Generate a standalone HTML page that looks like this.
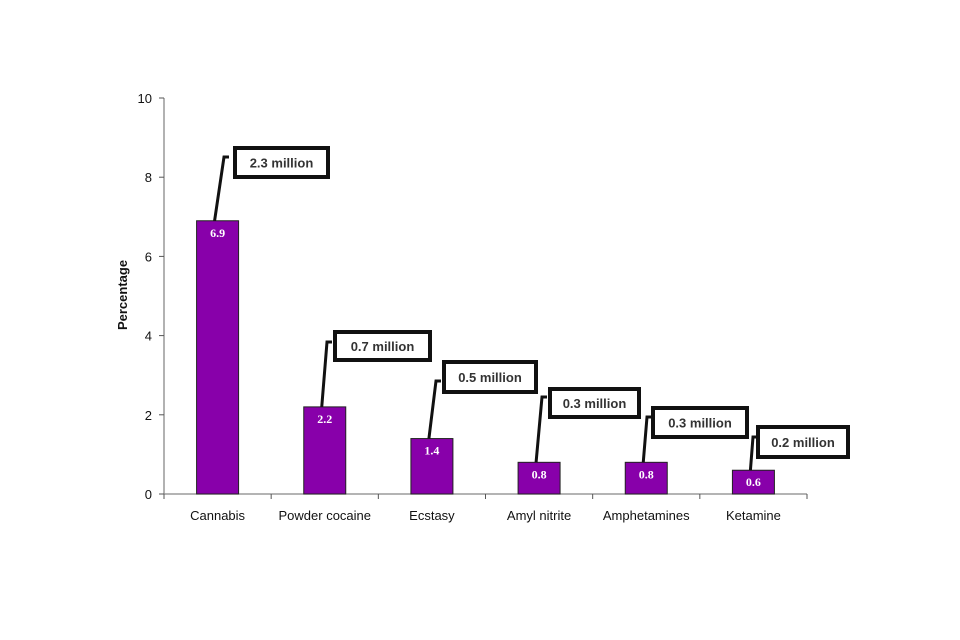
<!DOCTYPE html>
<html><head><meta charset="utf-8"><style>
html,body{margin:0;padding:0;background:#fff;}
svg{display:block;font-family:"Liberation Sans",sans-serif;}
</style></head><body>
<svg id="chart" width="960" height="640" viewBox="0 0 960 640"></svg>
<script>
const categories = ["Cannabis","Powder cocaine","Ecstasy","Amyl nitrite","Amphetamines","Ketamine"];
const values = [6.9,2.2,1.4,0.8,0.8,0.6];
const valueLabels = ["6.9","2.2","1.4","0.8","0.8","0.6"];
const calloutLabels = ["2.3 million","0.7 million","0.5 million","0.3 million","0.3 million","0.2 million"];
const yTicks = [0,2,4,6,8,10];

const NS="http://www.w3.org/2000/svg";
const svg=document.getElementById('chart');
const x0=164,x1=807,y0=494,yTop=98;
const band=(x1-x0)/categories.length;
const yScale=v=>y0-(v/10)*(y0-yTop);
const xCenter=i=>x0+band*(i+0.5);
function mk(tag,attrs,parent){const e=document.createElementNS(NS,tag);for(const k in attrs)e.setAttribute(k,attrs[k]);(parent||svg).appendChild(e);return e;}

// axes
const yAxis=mk('line',{x1:x0,y1:yTop,x2:x0,y2:y0,stroke:'#888','stroke-width':1.3});


const xAxis=mk('line',{x1:x0,y1:y0,x2:x1,y2:y0,stroke:'#888','stroke-width':1.3});



yTicks.forEach(t=>{
  const y=yScale(t);
  mk('line',{x1:x0-5,y1:y,x2:x0,y2:y,stroke:'#555','stroke-width':1});
  const tx=mk('text',{x:x0-12,y:y+5,'text-anchor':'end','font-size':13,fill:'#111'});
  tx.textContent=t;
  
  
});
for(let i=0;i<=categories.length;i++){
  const x=x0+band*i;
  mk('line',{x1:x,y1:y0,x2:x,y2:y0+5,stroke:'#555','stroke-width':1});
}
const yt=mk('text',{x:0,y:0,transform:'translate(127,295) rotate(-90)','text-anchor':'middle','font-size':13,'font-weight':'bold',fill:'#111'});
yt.textContent='Percentage';



// callout box positions (annotation layout)
const boxes=[[235,148,93,29],[335,332,95,28],[444,362,92,30],[550,389,89,28],[653,408,94,29],[758,427,90,30]];
const hooks=[[224,157],[327,342],[436,381],[542,397],[647,417],[753,437]];

categories.forEach((c,i)=>{
  const cx=xCenter(i),w=42,top=yScale(values[i]);
  const b=mk('rect',{x:cx-w/2,y:top,width:w,height:y0-top,fill:'#8800aa',stroke:'#222','stroke-width':1});
  
  
  const vl=mk('text',{x:cx,y:top+16,'text-anchor':'middle','font-size':12,'font-weight':'bold','font-family':'"Liberation Serif",serif',fill:'#fff'});
  vl.textContent=valueLabels[i];
  
  
  const cl=mk('text',{x:cx,y:520,'text-anchor':'middle','font-size':13,fill:'#111'});
  cl.textContent=c;
  
  
  // leader
  const [hx,hy]=hooks[i];
  const ld=mk('polyline',{points:`${cx-3},${top} ${hx},${hy} ${hx+5},${hy}`,fill:'none',stroke:'#111','stroke-width':3});
  
  
  const [bx,by,bw,bh]=boxes[i];
  const r=mk('rect',{x:bx,y:by,width:bw,height:bh,fill:'#fff',stroke:'#111','stroke-width':4});
  
  
  const ct=mk('text',{x:bx+bw/2,y:by+bh/2+5,'text-anchor':'middle','font-size':13,'font-weight':'bold',fill:'#333'});
  ct.textContent=calloutLabels[i];
  
  
});
</script>
</body></html>
